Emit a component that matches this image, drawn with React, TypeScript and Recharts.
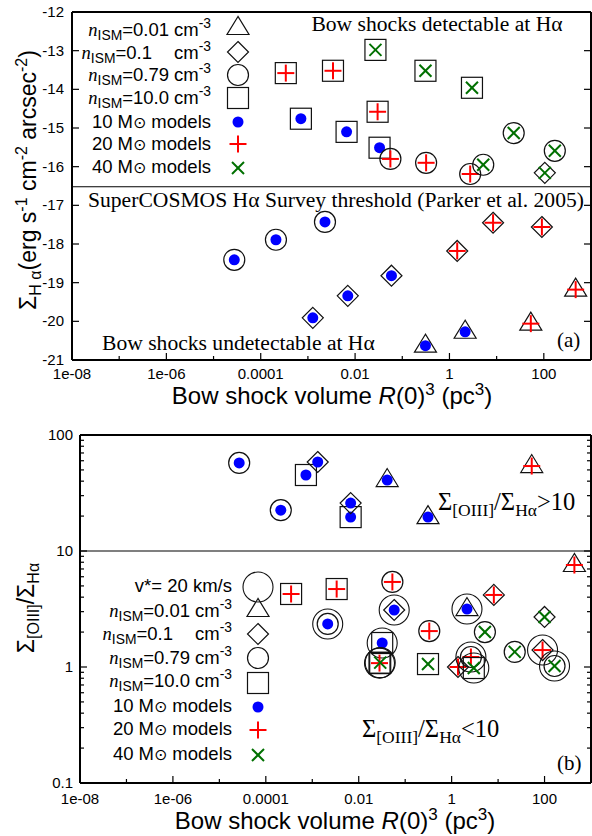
import React from 'react';
import { ScatterChart, Scatter, XAxis, YAxis, ReferenceLine } from 'recharts';

const SANS = "'Liberation Sans', Arial, Helvetica, sans-serif";
const SERIF = "'Liberation Serif', 'Times New Roman', serif";

// categories
const densityLabels = ['0.01', '0.1', '0.79', '10.0'];
const massLabels = ['10', '20', '40'];
const massColors: Record<string, string> = { '10': '#0000ff', '20': '#ff0000', '40': '#007000' };

// axis ticks
const xTicks = [1e-8, 1e-7, 1e-6, 1e-5, 1e-4, 1e-3, 1e-2, 1e-1, 1, 10, 100, 1000];
const xTickLabels = ['1e-08', '', '1e-06', '', '0.0001', '', '0.01', '', '1', '', '100', ''];
const yTicksA = [-21, -20, -19, -18, -17, -16, -15, -14, -13, -12];
const yTicksB = [0.1, 0.2, 0.3, 0.4, 0.5, 0.6, 0.7, 0.8, 0.9, 1, 2, 3, 4, 5, 6, 7, 8, 9, 10, 20, 30, 40, 50, 60, 70, 80, 90, 100];
const yMajorB = [0.1, 1, 10, 100];
const yLabelsB = ['0.1', '1', '10', '100'];

const hAlphaThreshold = -16.52;
const ratioThreshold = 10;

// panel (a): H-alpha surface brightness (log)
const haM10 = [
  { x: 7.1e-4, y: -14.76, n: '10.0' },
  { x: 6.6e-3, y: -15.1, n: '10.0' },
  { x: 0.033, y: -15.51, n: '10.0' },
  { x: 2.75e-5, y: -18.41, n: '0.79' },
  { x: 2.1e-4, y: -17.89, n: '0.79' },
  { x: 2.3e-3, y: -17.43, n: '0.79' },
  { x: 1.27e-3, y: -19.91, n: '0.1' },
  { x: 7.0e-3, y: -19.34, n: '0.1' },
  { x: 0.059, y: -18.82, n: '0.1' },
  { x: 0.31, y: -20.63, n: '0.01' },
  { x: 2.15, y: -20.27, n: '0.01' },
];
const haM20 = [
  { x: 3.4e-4, y: -13.58, n: '10.0' },
  { x: 3.4e-3, y: -13.52, n: '10.0' },
  { x: 0.03, y: -14.58, n: '10.0' },
  { x: 0.056, y: -15.8, n: '0.79' },
  { x: 0.32, y: -15.9, n: '0.79' },
  { x: 2.75, y: -16.19, n: '0.79' },
  { x: 1.46, y: -18.18, n: '0.1' },
  { x: 8.4, y: -17.45, n: '0.1' },
  { x: 91, y: -17.56, n: '0.1' },
  { x: 53, y: -20.06, n: '0.01' },
  { x: 473, y: -19.18, n: '0.01' },
];
const haM40 = [
  { x: 0.027, y: -12.98, n: '10.0' },
  { x: 0.31, y: -13.52, n: '10.0' },
  { x: 3.0, y: -13.96, n: '10.0' },
  { x: 5.2, y: -15.95, n: '0.79' },
  { x: 23, y: -15.13, n: '0.79' },
  { x: 171, y: -15.59, n: '0.79' },
  { x: 105, y: -16.16, n: '0.1' },
];

// panel (b): [OIII] / H-alpha ratio
const rM10 = [
  { x: 2.67e-5, y: 57.4, n: '0.79', fast: false },
  { x: 2.1e-4, y: 22.5, n: '0.79', fast: false },
  { x: 7.3e-4, y: 45.2, n: '10.0', fast: false },
  { x: 6.7e-3, y: 19.6, n: '10.0', fast: false },
  { x: 1.31e-3, y: 58.5, n: '0.1', fast: false },
  { x: 6.7e-3, y: 25.9, n: '0.1', fast: false },
  { x: 0.041, y: 40.9, n: '0.01', fast: false },
  { x: 0.31, y: 19.6, n: '0.01', fast: false },
  { x: 2.15e-3, y: 2.35, n: '0.79', fast: true },
  { x: 0.058, y: 3.1, n: '0.1', fast: true },
  { x: 0.032, y: 1.61, n: '10.0', fast: true },
  { x: 2.14, y: 3.16, n: '0.01', fast: true },
];
const rM20 = [
  { x: 53, y: 54.0, n: '0.01', fast: false },
  { x: 439, y: 7.57, n: '0.01', fast: false },
  { x: 3.5e-4, y: 4.26, n: '10.0', fast: false },
  { x: 3.35e-3, y: 4.7, n: '10.0', fast: false },
  { x: 0.053, y: 5.41, n: '0.79', fast: false },
  { x: 0.33, y: 2.04, n: '0.79', fast: false },
  { x: 8.1, y: 4.18, n: '0.1', fast: false },
  { x: 1.37, y: 1.0, n: '0.1', fast: false },
  { x: 0.028, y: 1.08, n: '10.0', fast: true },
  { x: 2.6, y: 1.22, n: '0.79', fast: true },
  { x: 90.6, y: 1.4, n: '0.1', fast: true },
];
const rM40 = [
  { x: 0.029, y: 1.09, n: '10.0', fast: true },
  { x: 0.31, y: 1.06, n: '10.0', fast: false },
  { x: 3.0, y: 0.98, n: '10.0', fast: true },
  { x: 5.2, y: 2.0, n: '0.79', fast: false },
  { x: 22.8, y: 1.35, n: '0.79', fast: false },
  { x: 164, y: 1.02, n: '0.79', fast: true },
  { x: 100, y: 2.7, n: '0.1', fast: false },
];

const OUT = '#111';

function Marker({ cx, cy, n, m, fast }: { cx: number; cy: number; n?: string | null; m?: string | null; fast?: boolean }) {
  const parts: any[] = [];
  if (fast) parts.push(<circle key="f" cx={cx} cy={cy} r={15} fill="none" stroke={OUT} strokeWidth={1.1} />);
  if (n === '0.01')
    parts.push(<polygon key="n" points={`${cx},${cy - 11.5} ${cx - 11},${cy + 6.5} ${cx + 11},${cy + 6.5}`} fill="none" stroke={OUT} strokeWidth={1.2} />);
  else if (n === '0.1')
    parts.push(<polygon key="n" points={`${cx},${cy - 10.5} ${cx + 10.5},${cy} ${cx},${cy + 10.5} ${cx - 10.5},${cy}`} fill="none" stroke={OUT} strokeWidth={1.2} />);
  else if (n === '0.79') parts.push(<circle key="n" cx={cx} cy={cy} r={10.5} fill="none" stroke={OUT} strokeWidth={1.2} />);
  else if (n === '10.0') parts.push(<rect key="n" x={cx - 10.5} y={cy - 10.5} width={21} height={21} fill="none" stroke={OUT} strokeWidth={1.2} />);
  if (m === '10') parts.push(<circle key="m" cx={cx} cy={cy} r={5.5} fill={massColors['10']} />);
  else if (m === '20')
    parts.push(
      <g key="m" stroke={massColors['20']} strokeWidth={2}>
        <line x1={cx - 8.5} x2={cx + 8.5} y1={cy} y2={cy} />
        <line x1={cx} x2={cx} y1={cy - 8.5} y2={cy + 8.5} />
      </g>
    );
  else if (m === '40')
    parts.push(
      <g key="m" stroke={massColors['40']} strokeWidth={2}>
        <line x1={cx - 6} x2={cx + 6} y1={cy - 6} y2={cy + 6} />
        <line x1={cx - 6} x2={cx + 6} y1={cy + 6} y2={cy - 6} />
      </g>
    );
  return <g>{parts}</g>;
}

const shapeFor = (m: string) => (p: any) => <Marker cx={p.cx} cy={p.cy} n={p.payload?.n} m={m} fast={p.payload?.fast} />;

const xLabelFor = (v: number) => {
  const e = Math.round(Math.log10(v));
  return xTickLabels[e + 8] || '';
};

const makeBottomTick = (dy: number) => (p: any) => {
  const lab = xLabelFor(p.payload.value);
  const len = lab ? 7 : 4;
  return (
    <g>
      <line x1={p.x} x2={p.x} y1={p.y} y2={p.y - len} stroke="#000" strokeWidth={1.2} />
      {lab ? (
        <text x={p.x} y={p.y + dy} textAnchor="middle" fontFamily={SANS} fontSize={15} fill="#000">
          {lab}
        </text>
      ) : null}
    </g>
  );
};
const TopTick = (p: any) => {
  const lab = xLabelFor(p.payload.value);
  const len = lab ? 7 : 4;
  return <line x1={p.x} x2={p.x} y1={p.y} y2={p.y + len} stroke="#000" strokeWidth={1.2} />;
};
const LeftTickA = (p: any) => (
  <g>
    <line x1={p.x} x2={p.x + 7} y1={p.y} y2={p.y} stroke="#000" strokeWidth={1.2} />
    <text x={p.x - 8} y={p.y + 5} textAnchor="end" fontFamily={SANS} fontSize={15} fill="#000">
      {String(p.payload.value)}
    </text>
  </g>
);
const RightTickA = (p: any) => <line x1={p.x} x2={p.x - 7} y1={p.y} y2={p.y} stroke="#000" strokeWidth={1.2} />;
const majorIdx = (v: number) => yMajorB.findIndex((t) => Math.abs(t - v) < 1e-9);
const LeftTickB = (p: any) => {
  const i = majorIdx(p.payload.value);
  return (
    <g>
      <line x1={p.x} x2={p.x + (i >= 0 ? 7 : 4)} y1={p.y} y2={p.y} stroke="#000" strokeWidth={1.2} />
      {i >= 0 ? (
        <text x={p.x - 7} y={p.y + 5} textAnchor="end" fontFamily={SANS} fontSize={15} fill="#000">
          {yLabelsB[i]}
        </text>
      ) : null}
    </g>
  );
};
const RightTickB = (p: any) => {
  const i = majorIdx(p.payload.value);
  return <line x1={p.x} x2={p.x - (i >= 0 ? 7 : 4)} y1={p.y} y2={p.y} stroke="#000" strokeWidth={1.2} />;
};

const axisLine = { stroke: '#000', strokeWidth: 2 };

function PanelA() {
  return (
    <ScatterChart width={592} height={410} margin={{ top: 11, right: 0, bottom: 10, left: 12 }}>
      <XAxis xAxisId="b" dataKey="x" type="number" scale="log" domain={[1e-8, 1e3]} allowDataOverflow ticks={xTicks} interval={0} tickSize={0} tickMargin={0} tickLine={false} axisLine={axisLine} height={40} tick={makeBottomTick(19)} />
      <XAxis xAxisId="t" orientation="top" type="number" scale="log" domain={[1e-8, 1e3]} allowDataOverflow ticks={xTicks} interval={0} tickSize={0} tickMargin={0} tickLine={false} axisLine={axisLine} height={1} tick={TopTick} />
      <YAxis yAxisId="l" dataKey="y" type="number" domain={[-21, -12]} allowDataOverflow ticks={yTicksA} interval={0} tickSize={0} tickMargin={0} tickLine={false} axisLine={axisLine} width={60} tick={LeftTickA} />
      <YAxis yAxisId="r" orientation="right" type="number" domain={[-21, -12]} allowDataOverflow ticks={yTicksA} interval={0} tickSize={0} tickMargin={0} tickLine={false} axisLine={axisLine} width={1} tick={RightTickA} />
      <ReferenceLine xAxisId="b" yAxisId="l" y={hAlphaThreshold} stroke="#000" strokeWidth={1.2} />
      <Scatter xAxisId="b" yAxisId="l" data={haM10} isAnimationActive={false} shape={shapeFor('10')} />
      <Scatter xAxisId="b" yAxisId="l" data={haM20} isAnimationActive={false} shape={shapeFor('20')} />
      <Scatter xAxisId="b" yAxisId="l" data={haM40} isAnimationActive={false} shape={shapeFor('40')} />
    </ScatterChart>
  );
}

function PanelB() {
  return (
    <ScatterChart width={592} height={416} margin={{ top: 14, right: 0, bottom: 10, left: 12 }}>
      <XAxis xAxisId="b" dataKey="x" type="number" scale="log" domain={[1e-8, 1e3]} allowDataOverflow ticks={xTicks} interval={0} tickSize={0} tickMargin={0} tickLine={false} axisLine={axisLine} height={43} tick={makeBottomTick(21)} />
      <XAxis xAxisId="t" orientation="top" type="number" scale="log" domain={[1e-8, 1e3]} allowDataOverflow ticks={xTicks} interval={0} tickSize={0} tickMargin={0} tickLine={false} axisLine={axisLine} height={1} tick={TopTick} />
      <YAxis yAxisId="l" dataKey="y" type="number" scale="log" domain={[0.1, 100]} allowDataOverflow ticks={yTicksB} interval={0} tickSize={0} tickMargin={0} tickLine={false} axisLine={axisLine} width={68} tick={LeftTickB} />
      <YAxis yAxisId="r" orientation="right" type="number" scale="log" domain={[0.1, 100]} allowDataOverflow ticks={yTicksB} interval={0} tickSize={0} tickMargin={0} tickLine={false} axisLine={axisLine} width={1} tick={RightTickB} />
      <ReferenceLine xAxisId="b" yAxisId="l" y={ratioThreshold} stroke="#000" strokeWidth={1.2} />
      <Scatter xAxisId="b" yAxisId="l" data={rM10} isAnimationActive={false} shape={shapeFor('10')} />
      <Scatter xAxisId="b" yAxisId="l" data={rM20} isAnimationActive={false} shape={shapeFor('20')} />
      <Scatter xAxisId="b" yAxisId="l" data={rM40} isAnimationActive={false} shape={shapeFor('40')} />
    </ScatterChart>
  );
}

function DensityText({ x, y, d, fs }: { x: number; y: number; d: string; fs: number }) {
  const val = d === '0.1' ? '=0.1' : '=' + d;
  return (
    <text x={x} y={y} textAnchor="end" fontFamily={SANS} fontSize={fs} fill="#000">
      <tspan fontFamily={SERIF} fontStyle="italic">n</tspan>
      <tspan fontSize={fs * 0.75} dy={4}>ISM</tspan>
      <tspan dy={-4}>{val}</tspan>
      <tspan dx={d === '0.1' ? 22 : 5}>cm</tspan>
      <tspan fontSize={fs * 0.75} dy={-8}>-3</tspan>
    </text>
  );
}

function MassText({ x, y, m, fs }: { x: number; y: number; m: string; fs: number }) {
  return (
    <text x={x} y={y} textAnchor="end" fontFamily={SANS} fontSize={fs} fill="#000">
      {m} M<tspan fontFamily="'DejaVu Sans', sans-serif" fontSize={fs * 0.85}>⊙</tspan> models
    </text>
  );
}

function Overlay() {
  const lfs = 18.5;
  const rowsA = [36, 59, 81, 104];
  const symA = [28, 52, 75, 98];
  const massRowsA = [128, 150, 173];
  const massSymA = [122, 144, 168];
  const rowsB = [617, 640, 664, 687];
  const symB = [610, 634, 658, 683];
  const massRowsB = [712, 735, 760];
  const massSymB = [707, 730, 755];
  const afs = 21.6;
  return (
    <svg width={592} height={836} style={{ position: 'absolute', left: 0, top: 0, pointerEvents: 'none' }}>
      {/* panel (a) legend */}
      {densityLabels.map((d, i) => (
        <g key={'la' + d}>
          <DensityText x={211} y={rowsA[i]} d={d} fs={lfs} />
          <Marker cx={238} cy={symA[i]} n={d} />
        </g>
      ))}
      {massLabels.map((m, i) => (
        <g key={'lam' + m}>
          <MassText x={211} y={massRowsA[i]} m={m} fs={lfs} />
          <Marker cx={238} cy={massSymA[i]} m={m} />
        </g>
      ))}
      {/* panel (a) annotations */}
      <text x={437} y={31} textAnchor="middle" fontFamily={SERIF} fontSize={afs} fill="#000">Bow shocks detectable at Hα</text>
      <text x={88} y={207} fontFamily={SERIF} fontSize={afs} fill="#000">SuperCOSMOS Hα Survey threshold (Parker et al. 2005)</text>
      <text x={102} y={350} fontFamily={SERIF} fontSize={afs} fill="#000">Bow shocks undetectable at Hα</text>
      <text x={557} y={347} fontFamily={SERIF} fontSize={21} fill="#000">(a)</text>
      {/* panel (a) axis titles */}
      <text transform="translate(36,180) rotate(-90)" textAnchor="middle" fontFamily={SANS} fontSize={23} fill="#000">
        Σ<tspan fontSize={16} dy={5}>H α</tspan>
        <tspan dy={-5}>(erg s</tspan>
        <tspan fontSize={16} dy={-9}>-1</tspan>
        <tspan dy={9}> cm</tspan>
        <tspan fontSize={16} dy={-9}>-2</tspan>
        <tspan dy={9}> arcsec</tspan>
        <tspan fontSize={16} dy={-9}>-2</tspan>
        <tspan dy={9}>)</tspan>
      </text>
      <text x={332} y={404} textAnchor="middle" fontFamily={SANS} fontSize={24} fill="#000">
        Bow shock volume <tspan fontStyle="italic">R</tspan>(0)<tspan fontSize={17} dy={-9}>3</tspan>
        <tspan dy={9}> (pc</tspan>
        <tspan fontSize={17} dy={-9}>3</tspan>
        <tspan dy={9}>)</tspan>
      </text>

      {/* panel (b) legend */}
      <text x={232} y={592} textAnchor="end" fontFamily={SANS} fontSize={lfs} fill="#000">v*= 20 km/s</text>
      <Marker cx={258} cy={587} fast />
      {densityLabels.map((d, i) => (
        <g key={'lb' + d}>
          <DensityText x={232} y={rowsB[i]} d={d} fs={lfs} />
          <Marker cx={258} cy={symB[i]} n={d} />
        </g>
      ))}
      {massLabels.map((m, i) => (
        <g key={'lbm' + m}>
          <MassText x={232} y={massRowsB[i]} m={m} fs={lfs} />
          <Marker cx={258} cy={massSymB[i]} m={m} />
        </g>
      ))}
      {/* panel (b) annotations */}
      <text x={438} y={510} fontFamily={SERIF} fontSize={24.5} fill="#000">
        Σ<tspan fontSize={17.5} dy={6}>[OIII]</tspan>
        <tspan dy={-6}>/Σ</tspan>
        <tspan fontSize={17.5} dy={6}>Hα</tspan>
        <tspan dy={-6}>&gt;10</tspan>
      </text>
      <text x={362} y={737} fontFamily={SERIF} fontSize={24.5} fill="#000">
        Σ<tspan fontSize={17.5} dy={6}>[OIII]</tspan>
        <tspan dy={-6}>/Σ</tspan>
        <tspan fontSize={17.5} dy={6}>Hα</tspan>
        <tspan dy={-6}>&lt;10</tspan>
      </text>
      <text x={557} y={770} fontFamily={SERIF} fontSize={21} fill="#000">(b)</text>
      {/* panel (b) axis titles */}
      <text transform="translate(34,608) rotate(-90)" textAnchor="middle" fontFamily={SANS} fontSize={23} fill="#000">
        Σ<tspan fontSize={16} dy={5}>[OIII]</tspan>
        <tspan dy={-5}>/Σ</tspan>
        <tspan fontSize={16} dy={5}>Hα</tspan>
      </text>
      <text x={335} y={829} textAnchor="middle" fontFamily={SANS} fontSize={24} fill="#000">
        Bow shock volume <tspan fontStyle="italic">R</tspan>(0)<tspan fontSize={17} dy={-9}>3</tspan>
        <tspan dy={9}> (pc</tspan>
        <tspan fontSize={17} dy={-9}>3</tspan>
        <tspan dy={9}>)</tspan>
      </text>
    </svg>
  );
}

export default function App() {
  return (
    <div style={{ position: 'absolute', left: 0, top: 0, width: 592, height: 836, overflow: 'hidden', background: '#fff' }}>
      <div style={{ position: 'absolute', left: 0, top: 0 }}>
        <PanelA />
      </div>
      <div style={{ position: 'absolute', left: 0, top: 420 }}>
        <PanelB />
      </div>
      <Overlay />
    </div>
  );
}
